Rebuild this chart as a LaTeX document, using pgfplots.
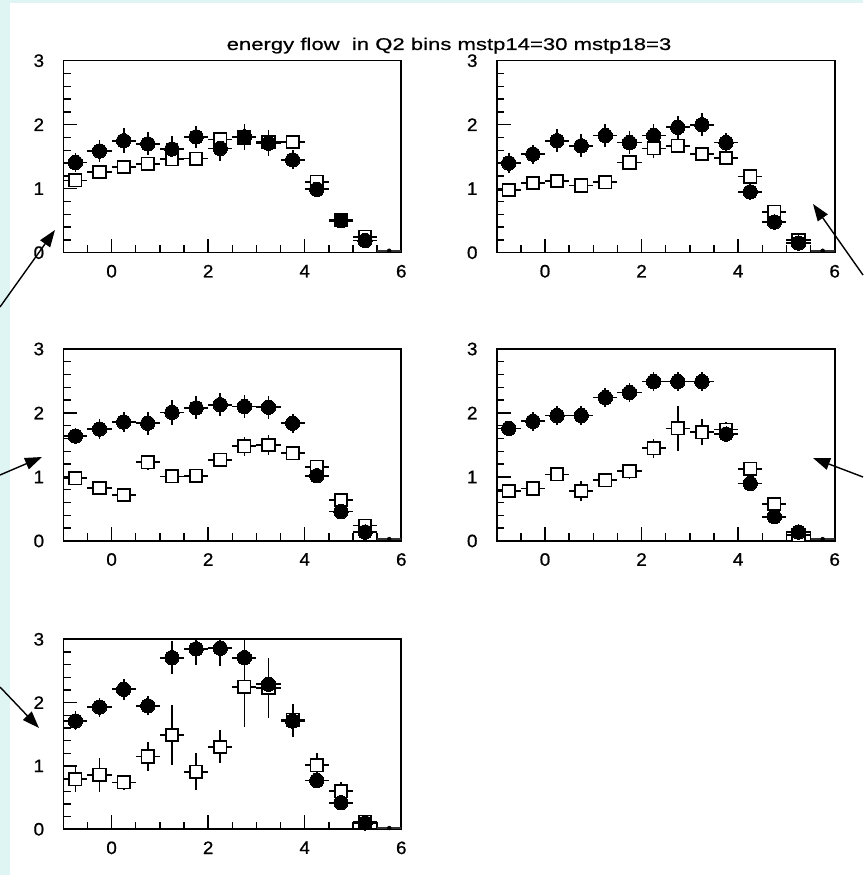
\documentclass[border=0pt]{standalone}
\usepackage{pgfplots}
\pgfplotsset{compat=1.18}
\usepackage{pgfplotstable}
\usepackage{fontspec}
\setmainfont{Liberation Sans}
\newfontfamily\titlefont[FakeStretch=1.3, FakeBold=0.6]{Liberation Sans}
\newfontfamily\tickfont[FakeStretch=1.05, FakeBold=0.8]{Liberation Sans}
\usetikzlibrary{arrows.meta}
\definecolor{bgcyan}{RGB}{222,245,243}

% panel 1
\pgfplotstableread{
x y e
-0.75 1.41 0.15
-0.25 1.59 0.17
0.25 1.75 0.20
0.75 1.70 0.18
1.25 1.62 0.20
1.75 1.81 0.17
2.25 1.63 0.20
2.75 1.81 0.20
3.25 1.71 0.20
3.75 1.45 0.15
4.25 0.99 0.08
4.75 0.50 0.05
5.25 0.19 0.04
}\cA
\pgfplotstableread{
x y e
-0.75 1.13 0.08
-0.25 1.26 0.06
0.25 1.34 0.06
0.75 1.39 0.06
1.25 1.46 0.10
1.75 1.47 0.08
2.25 1.77 0.08
2.75 1.80 0.08
3.25 1.73 0.08
3.75 1.73 0.07
4.25 1.11 0.07
4.75 0.51 0.05
5.25 0.25 0.04
}\sA
% panel 2
\pgfplotstableread{
x y e
-0.75 1.40 0.15
-0.25 1.54 0.15
0.25 1.75 0.18
0.75 1.67 0.18
1.25 1.83 0.18
1.75 1.72 0.18
2.25 1.83 0.18
2.75 1.96 0.18
3.25 2.00 0.18
3.75 1.72 0.15
4.25 0.95 0.06
4.75 0.48 0.05
5.25 0.15 0.03
}\cB
\pgfplotstableread{
x y e
-0.75 0.98 0.06
-0.25 1.09 0.06
0.25 1.12 0.06
0.75 1.05 0.05
1.25 1.10 0.10
1.75 1.41 0.10
2.25 1.63 0.15
2.75 1.67 0.12
3.25 1.54 0.10
3.75 1.48 0.08
4.25 1.19 0.08
4.75 0.64 0.06
5.25 0.20 0.04
}\sB
% panel 3
\pgfplotstableread{
x y e
-0.75 1.64 0.12
-0.25 1.75 0.15
0.25 1.86 0.15
0.75 1.84 0.18
1.25 2.01 0.20
1.75 2.08 0.18
2.25 2.13 0.18
2.75 2.10 0.18
3.25 2.09 0.18
3.75 1.84 0.15
4.25 1.02 0.05
4.75 0.46 0.05
5.25 0.14 0.03
}\cC
\pgfplotstableread{
x y e
-0.75 0.98 0.08
-0.25 0.83 0.06
0.25 0.72 0.06
0.75 1.23 0.12
1.25 1.01 0.08
1.75 1.02 0.08
2.25 1.27 0.10
2.75 1.48 0.15
3.25 1.50 0.15
3.75 1.37 0.10
4.25 1.16 0.08
4.75 0.64 0.06
5.25 0.24 0.04
}\sC
% panel 4
\pgfplotstableread{
x y e
-0.75 1.76 0.12
-0.25 1.87 0.15
0.25 1.96 0.15
0.75 1.96 0.15
1.25 2.24 0.15
1.75 2.32 0.15
2.25 2.49 0.15
2.75 2.49 0.15
3.25 2.49 0.15
3.75 1.67 0.10
4.25 0.90 0.04
4.75 0.38 0.04
5.25 0.14 0.03
}\cD
\pgfplotstableread{
x y e
-0.75 0.78 0.08
-0.25 0.82 0.08
0.25 1.04 0.08
0.75 0.78 0.15
1.25 0.95 0.08
1.75 1.09 0.12
2.25 1.45 0.15
2.75 1.76 0.35
3.25 1.70 0.20
3.75 1.74 0.12
4.25 1.13 0.10
4.75 0.58 0.06
5.25 0.09 0.04
}\sD
% panel 5
\pgfplotstableread{
x y e
-0.75 1.71 0.15
-0.25 1.93 0.15
0.25 2.21 0.17
0.75 1.95 0.15
1.25 2.71 0.26
1.75 2.85 0.25
2.25 2.86 0.28
2.75 2.71 0.30
3.25 2.29 0.10
3.75 1.71 0.25
4.25 0.77 0.05
4.75 0.42 0.05
5.25 0.10 0.03
}\cE
\pgfplotstableread{
x y e
-0.75 0.79 0.20
-0.25 0.86 0.27
0.25 0.74 0.12
0.75 1.15 0.23
1.25 1.49 0.47
1.75 0.91 0.29
2.25 1.30 0.26
2.75 2.25 0.63
3.25 2.23 0.48
3.75 1.73 0.25
4.25 1.01 0.20
4.75 0.60 0.15
5.25 0.12 0.05
}\sE

\pgfplotsset{
  panel/.style={
    scale only axis, width=338pt, height=192pt,
    anchor=south west,
    xmin=-1, xmax=6, ymin=0, ymax=3,
    xtick={0,2,4,6},
    minor xtick={-0.5,0.5,1,1.5,2.5,3,3.5,4.5,5,5.5},
    ytick={0,1,2,3},
    minor ytick={0.2,0.4,0.6,0.8,1.2,1.4,1.6,1.8,2.2,2.4,2.6,2.8},
    tick align=inside,
    xtick pos=bottom, ytick pos=left,
    major tick length=14pt, minor tick length=7.5pt,
    axis line style={line width=1.6pt, black},
    every tick/.style={black, line width=1.4pt},
    every tick label/.append style={font=\tickfont\fontsize{18}{18}\selectfont},
    /pgf/number format/assume math mode=true,
    yticklabel style={inner sep=0pt, xshift=-19pt},
    xticklabel style={inner sep=0pt, yshift=-12pt},
  },
  circ/.style={only marks, mark=*, mark size=7.2pt, black,
    mark options={line width=0pt},
    error bars/.cd, x dir=both, x fixed=0.25, y dir=both, y explicit,
    error mark=none, error bar style={line width=1.7pt, black}},
  sq/.style={only marks, mark=square*, mark size=6.2pt,
    mark options={fill=white, draw=black, line width=1.7pt},
    error bars/.cd, x dir=both, x fixed=0.25, y dir=both, y explicit,
    error mark=none, error bar style={line width=1.7pt, black}},
  last/.style={only marks, mark=none, draw=none,
    error bars/.cd, x dir=both, x fixed=0.25,
    error mark=none, error bar style={line width=2pt, black!80}},
}

\begin{document}
\begin{tikzpicture}[x=1pt, y=1pt]
\fill[bgcyan] (0,0) rectangle (863,875);
\fill[white] (10,0) rectangle (863,872);
\path[use as bounding box] (0,0) rectangle (863,875);

\node[font=\titlefont\fontsize{17}{17}\selectfont, anchor=base, inner sep=0pt]
  at (449,825) {energy flow\ \ in Q2 bins mstp14=30 mstp18=3};

\begin{axis}[panel, at={(63.3pt,622.3pt)}]
  \addplot[sq] table[x=x, y=y, y error=e] {\sA};
  \addplot[circ] table[x=x, y=y, y error=e] {\cA};
  \addplot[last] coordinates {(5.75,0.03)};
\end{axis}
\begin{axis}[panel, at={(496.7pt,622.3pt)}]
  \addplot[sq] table[x=x, y=y, y error=e] {\sB};
  \addplot[circ] table[x=x, y=y, y error=e] {\cB};
  \addplot[last] coordinates {(5.75,0.03)};
\end{axis}
\begin{axis}[panel, at={(63.3pt,334pt)}]
  \addplot[sq] table[x=x, y=y, y error=e] {\sC};
  \addplot[circ] table[x=x, y=y, y error=e] {\cC};
  \addplot[last] coordinates {(5.75,0.03)};
\end{axis}
\begin{axis}[panel, at={(496.7pt,334pt)}]
  \addplot[sq] table[x=x, y=y, y error=e] {\sD};
  \addplot[circ] table[x=x, y=y, y error=e] {\cD};
  \addplot[last] coordinates {(5.75,0.03)};
\end{axis}
\begin{axis}[panel, at={(63.3pt,45.7pt)}, height=190pt]
  \addplot[sq] table[x=x, y=y, y error=e] {\sE};
  \addplot[circ] table[x=x, y=y, y error=e] {\cE};
  \addplot[last] coordinates {(5.75,0.02)};
\end{axis}

\begin{scope}[line width=1.4pt, -{Triangle[length=17pt,width=12pt]}]
  \draw (0,568) -- (55,645);
  \draw (863,600) -- (813,671);
  \draw (0,400) -- (42,418);
  \draw (863,398) -- (813,417);
  \draw (0,188) -- (39,147);
\end{scope}
\end{tikzpicture}
\end{document}
